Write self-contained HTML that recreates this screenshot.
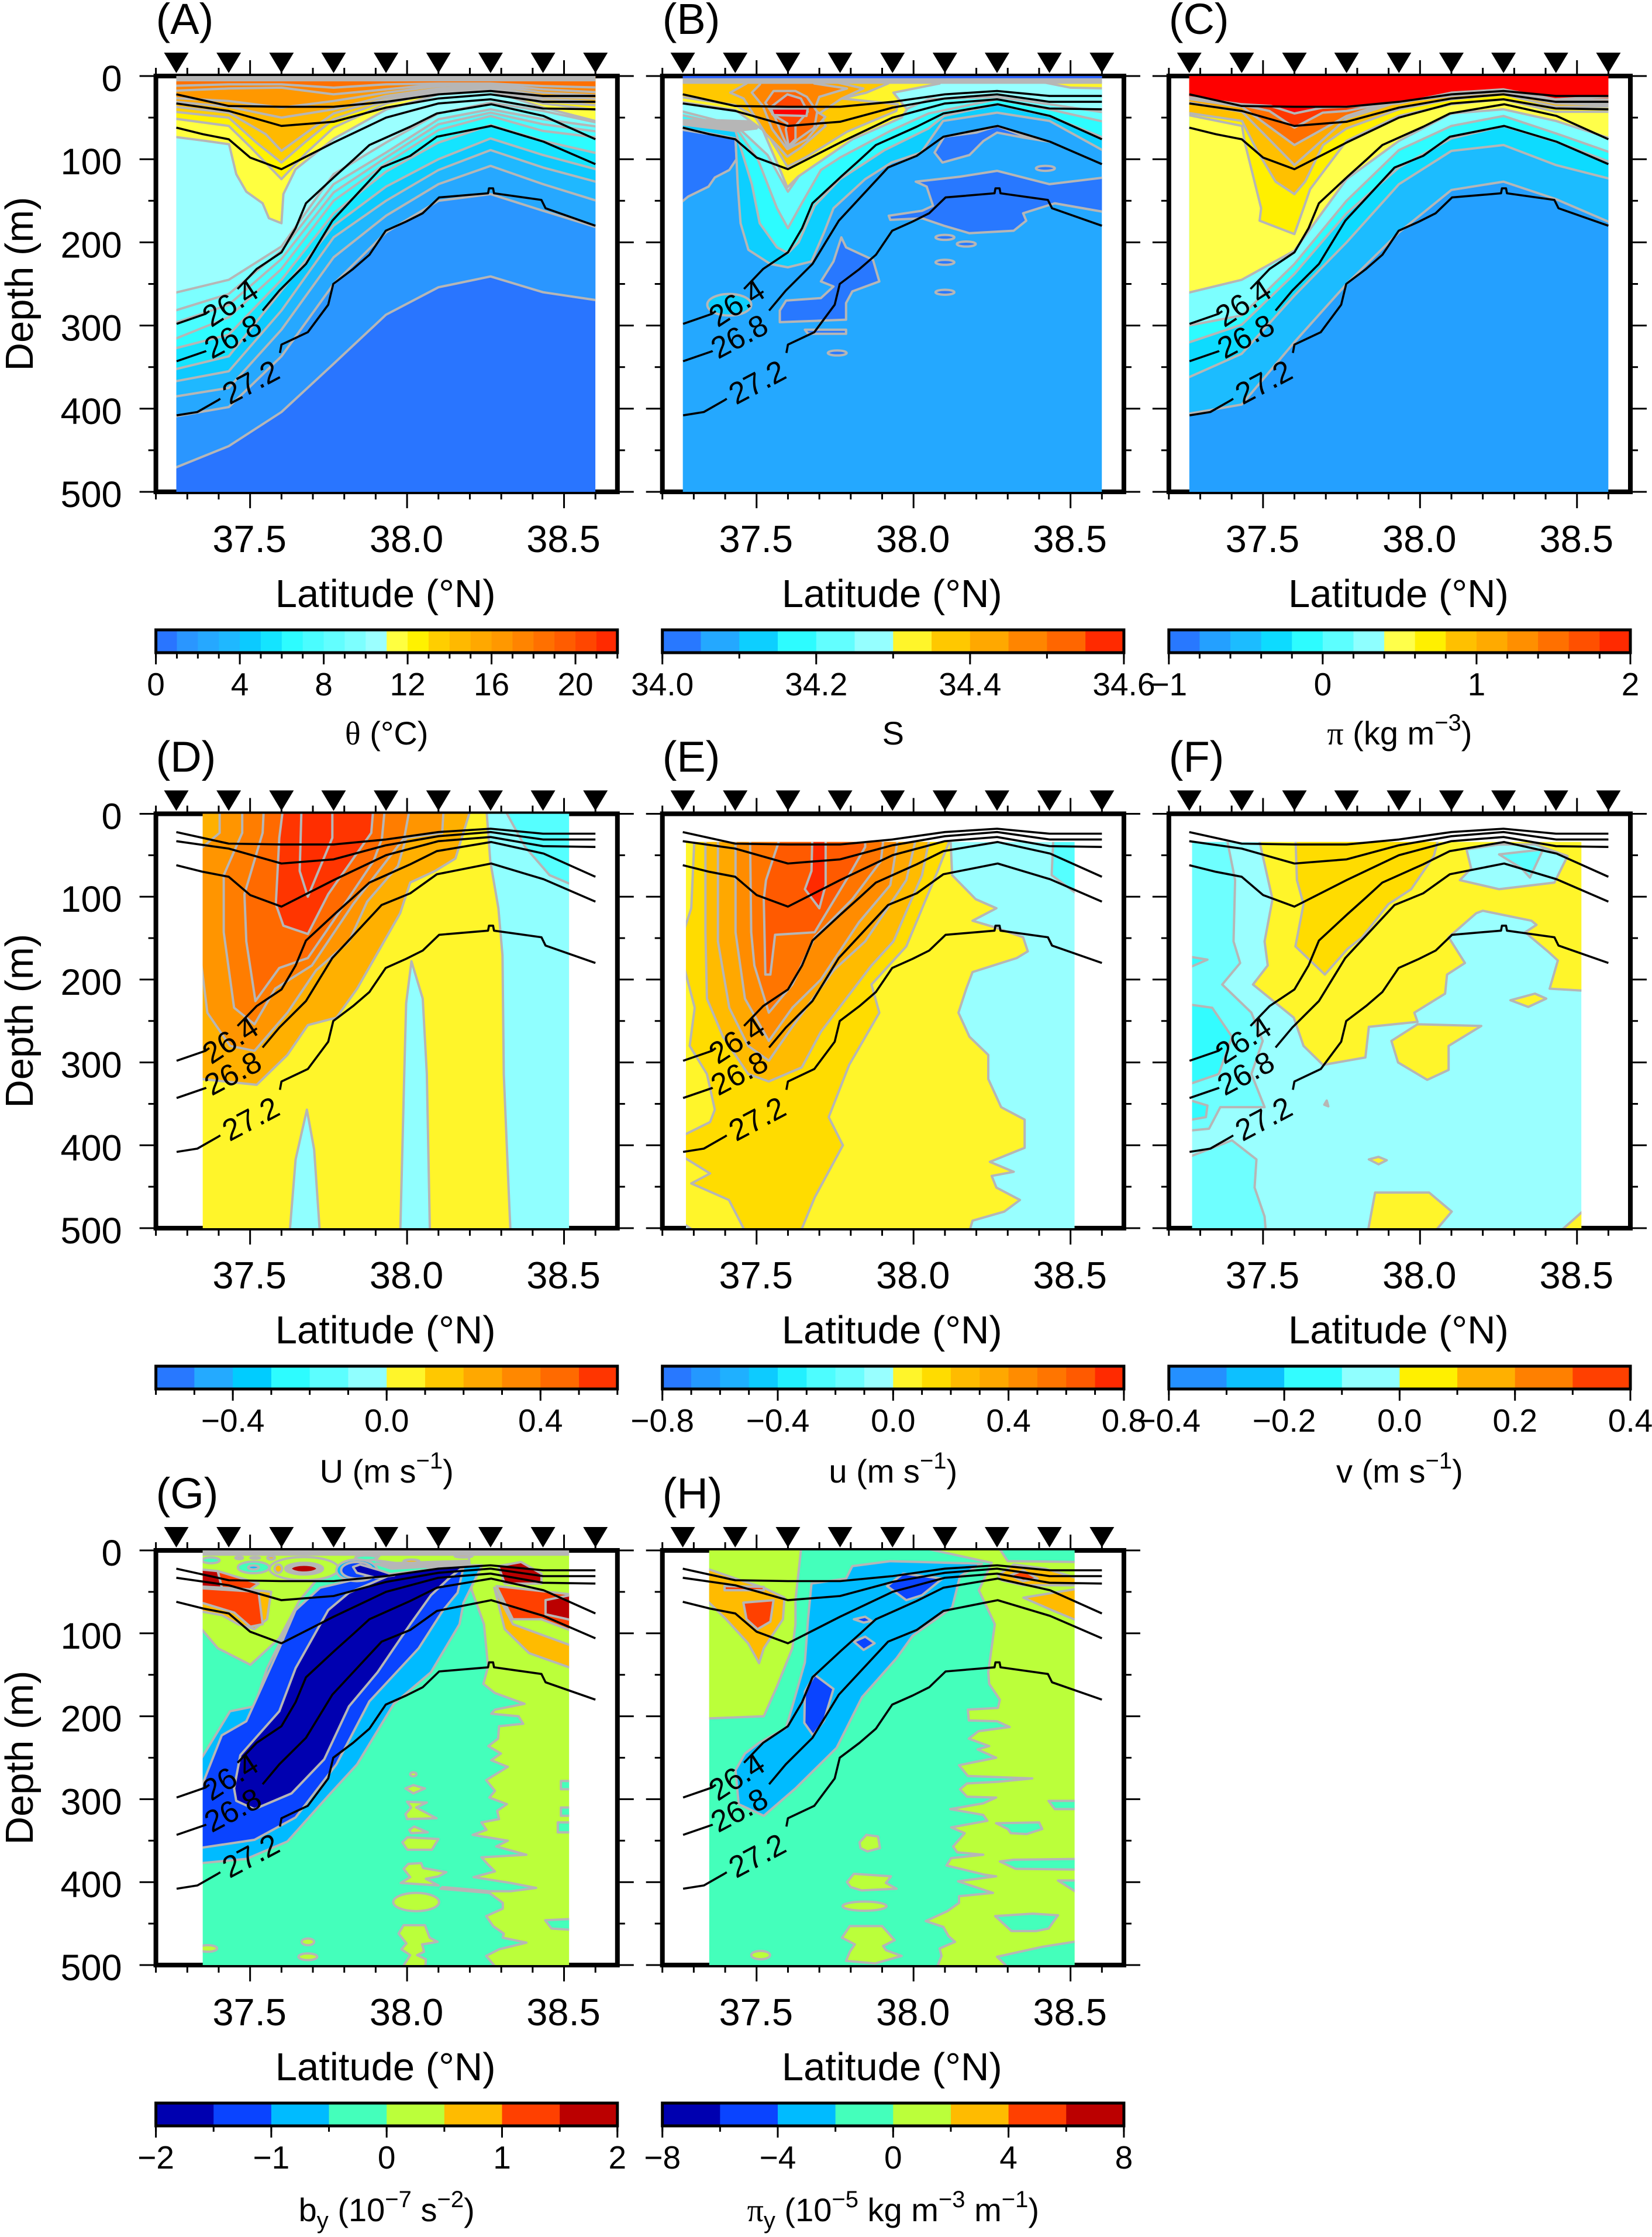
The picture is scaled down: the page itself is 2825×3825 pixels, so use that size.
<!DOCTYPE html>
<html lang="en">
<head>
<meta charset="utf-8">
<title>Meridional section panels A to H</title>
<style>
html,body{margin:0;padding:0;background:#fff;}
svg{display:block;font-family:"Liberation Sans",sans-serif;}
</style>
</head>
<body>
<svg id="figure" xmlns="http://www.w3.org/2000/svg" width="2825" height="3825" viewBox="0 0 2825 3825"></svg>
<script>
/* ---------- shared data ---------- */
const stationLats = [37.265,37.432,37.6,37.766,37.933,38.1,38.266,38.433,38.6];
const latTicks = [37.2,37.3,37.4,37.5,37.6,37.7,37.8,37.9,38.0,38.1,38.2,38.3,38.4,38.5,38.6];
const latLabels = [37.5,38.0,38.5];
const depthTicks = [0,50,100,150,200,250,300,350,400,450,500];
const depthLabels = [0,100,200,300,400,500];

/* isopycnals (lat, depth) */
const isoTop1 = [[37.265,22],[37.432,36],[37.6,37],[37.766,37],[37.933,31],[38.1,22],[38.266,18],[38.433,24],[38.6,24]];
const isoTop2 = [[37.265,33],[37.432,42],[37.6,60],[37.766,55],[37.933,38],[38.1,27],[38.266,22],[38.433,31],[38.6,31]];
const isoTop3 = [[37.265,62],[37.35,70],[37.432,76],[37.5,98],[37.6,112],[37.766,80],[37.933,50],[38.1,33],[38.266,28],[38.433,39],[38.6,40]];
const iso264 = [[37.266,298],[37.358,286],[37.45,260],[37.521,232],[37.6,212],[37.645,183],[37.678,153],[37.769,121],[37.828,101],[37.88,83],[38.01,61],[38.095,45],[38.268,34],[38.435,48],[38.6,76]];
const iso268 = [[37.266,343],[37.358,331],[37.45,305],[37.54,282],[37.593,258],[37.678,226],[37.762,174],[37.919,110],[38.01,96],[38.095,73],[38.268,60],[38.435,79],[38.6,106]];
const iso272 = [[37.266,408],[37.332,404],[37.397,390],[37.5,365],[37.593,337],[37.6,323],[37.684,308],[37.749,275],[37.765,250],[37.828,232],[37.88,215],[37.932,186],[37.997,175],[38.05,165],[38.102,146],[38.258,141],[38.261,135],[38.274,135],[38.277,141],[38.428,149],[38.441,159],[38.6,180]];
const isoGap264 = [37.37,37.46];
const isoGap268 = [37.36,37.54];
const isoGap272 = [37.405,37.595];
const isoLabelText = ['26.4','26.8','27.2'];
const isoLabelLat = [37.437,37.445,37.502];
const isoLabelDepth = [273,313,368];
const isoLabelAngle = [-33,-28,-28];

/* colour bars */
const cbColorsA = ['#2975ff','#2a96ff','#26a8ff','#1fb8ff','#0ccaff','#14e4ff','#2dfcff','#4afdff','#62feff','#7cffff','#9bffff','#ffff40','#fff200','#ffce00','#ffb900','#ffa800','#ff9800','#ff8400','#ff7000','#ff5c00','#ff4600','#ff2a00'];
const cbColorsB = ['#2878ff','#24a8ff','#0dcfff','#2dfcff','#62feff','#95ffff','#fff52a','#ffc800','#ffa800','#ff8500','#ff6600','#ff2a00'];
const cbColorsC = ['#2878ff','#24a0ff','#1cbcff','#0ddbff','#2dfcff','#5cfeff','#8effff','#ffff4a','#fff000','#ffc000','#ffaa00','#ff8f00','#ff7000','#ff5000','#ff2a00'];
const cbColorsD = ['#2878ff','#24aaff','#00ccff','#2dfcff','#5cfeff','#90ffff','#fff52a','#ffc800','#ffa800','#ff8800','#ff6a00','#ff3500'];
const cbColorsE = ['#2878ff','#2498ff','#1fb0ff','#0dcbff','#22f0ff','#4dfdff','#6cfeff','#98ffff','#fff52a','#ffdc00','#ffbb00','#ffa800','#ff8c00','#ff7500','#ff5a00','#ff2a00'];
const cbColorsF = ['#2490ff','#0dc0ff','#33fcff','#90ffff','#fff000','#ffb000','#ff8000','#ff4000'];
const cbColorsG = ['#0000b0','#0a44ff','#00bbff','#44ffbb','#bbff3a','#ffbb00','#ff4000','#bb0000'];
const cbMajorA = [0,4,8,12,16,20], cbMinorA = [0,1,2,3,4,5,6,7,8,9,10,11,12,13,14,15,16,17,18,19,20,21,22];
const cbMajorB = [34.0,34.2,34.4,34.6], cbMinorB = [34.0,34.1,34.2,34.3,34.4,34.5,34.6];
const cbMajorC = [-1,0,1,2], cbMinorC = [-1,-0.8,-0.6,-0.4,-0.2,0,0.2,0.4,0.6,0.8,1,1.2,1.4,1.6,1.8,2];
const cbMajorD = [-0.4,0,0.4], cbMinorD = [-0.6,-0.5,-0.4,-0.3,-0.2,-0.1,0,0.1,0.2,0.3,0.4,0.5,0.6];
const cbMajorE = [-0.8,-0.4,0,0.4,0.8], cbMinorE = [-0.8,-0.7,-0.6,-0.5,-0.4,-0.3,-0.2,-0.1,0,0.1,0.2,0.3,0.4,0.5,0.6,0.7,0.8];
const cbMajorF = [-0.4,-0.2,0,0.2,0.4], cbMinorF = [-0.4,-0.3,-0.2,-0.1,0,0.1,0.2,0.3,0.4];
const cbMajorG = [-2,-1,0,1,2], cbMinorG = [-2,-1.5,-1,-0.5,0,0.5,1,1.5,2];
const cbMajorH = [-8,-4,0,4,8], cbMinorH = [-8,-6,-4,-2,0,2,4,6,8];

/* ---------- panel A: potential temperature contours ---------- */
const thetaC1 = [475,445,404,346,287,254,241,260,271];
const thetaC2 = [411,398,337,250,188,150,142,162,185];
const thetaC3 = [387,375,305,218,168,130,108,130,153];
const thetaC4 = [369,355,282,194,150,113,89,110,130];
const thetaC5 = [355,337,258,180,133,100,75,95,115];
const thetaC6 = [330,311,245,165,115,80,59,78,95];
const thetaC7 = [320,290,232,150,105,65,48,66,75];
const thetaC8 = [300,275,220,140,98,58,44,58,68];
const thetaC9 = [285,262,210,130,92,52,40,52,62];
const thetaC10 = [263,245,205,118,80,45,32,42,58];
const thetaC11 = [[37.266,72],[37.358,78],[37.433,82],[37.456,118],[37.488,139],[37.54,153],[37.56,171],[37.6,177],[37.606,142],[37.645,112],[37.768,75],[37.935,40],[38.102,22],[38.268,18],[38.435,38],[38.6,57]];
const thetaC12 = [[37.265,50],[37.432,60],[37.5,85],[37.6,124],[37.68,92],[37.766,62],[37.933,33],[38.1,20],[38.266,16],[38.433,33],[38.6,42]];
const thetaC13 = [[37.265,42],[37.432,50],[37.52,80],[37.6,104],[37.68,78],[37.766,52],[37.933,30],[38.1,19],[38.266,15],[38.433,30],[38.6,36]];
const thetaC14 = [[37.265,36],[37.432,44],[37.55,70],[37.6,90],[37.68,68],[37.766,45],[37.933,27],[38.1,17],[38.266,14],[38.433,27],[38.6,32]];
const thetaC15 = [[37.265,30],[37.432,37],[37.6,50],[37.766,40],[37.933,24],[38.1,15],[38.266,13],[38.433,24],[38.6,28]];
const thetaC16 = [[37.265,26],[37.432,30],[37.6,38],[37.766,30],[37.933,20],[38.1,12],[38.266,11],[38.433,20],[38.6,24]];
const thetaC17 = [[37.265,18],[37.432,15],[37.6,14],[37.766,22],[37.933,16],[38.1,10],[38.266,10],[38.433,16],[38.6,20]];
const thetaC18 = [[37.265,12],[37.432,10],[37.6,10],[37.766,14],[37.933,10],[38.1,9],[38.266,9],[38.433,12],[38.6,14]];
const thetaSurface = [[37.265,0],[38.6,0],[38.6,5],[37.265,5]];

/* ---------- panel B: salinity ---------- */
const salLowLeft = [[37.267,63],[37.433,75],[37.436,100],[37.413,113],[37.367,122],[37.347,133],[37.282,145],[37.267,159]];
const salLowUpper = [[38.067,92],[38.092,104],[38.178,95],[38.223,78],[38.266,68],[38.349,74],[38.433,79],[38.35,72],[38.266,60],[38.2,68],[38.097,73]];
const salLowBig = [[38.007,127],[38.148,121],[38.266,114],[38.433,130],[38.6,121],[38.6,165],[38.45,153],[38.349,165],[38.359,174],[38.319,186],[38.178,189],[38.097,180],[38.027,171],[37.926,173],[37.921,168],[38.027,162],[38.062,156],[38.042,133]];
const salLowMid = [[37.77,194],[37.785,206],[37.871,221],[37.891,247],[37.805,259],[37.785,273],[37.785,293],[37.574,296],[37.574,282],[37.594,270],[37.705,267],[37.745,253],[37.705,247],[37.745,223]];
const salLowThin = [[37.654,305],[37.785,305],[37.785,310],[37.664,310]];
const salRingLat = [38.42,38.1,38.168,38.1,38.1,37.757];
const salRingDepth = [111,194,202,224,260,333];
const salBlobCentre = [37.413,275];
const salC1 = [[37.267,61],[37.433,75],[37.44,130],[37.449,177],[37.474,209],[37.544,226],[37.6,230],[37.675,223],[37.715,188],[37.745,159],[37.846,124],[37.93,104],[38.024,92],[38.094,54],[38.266,44],[38.433,54],[38.6,95]];
const salC2 = [[37.267,56],[37.433,66],[37.485,130],[37.51,177],[37.565,206],[37.6,213],[37.634,200],[37.685,156],[37.766,124],[37.908,89],[38.048,63],[38.097,48],[38.266,34],[38.433,48],[38.6,78]];
const salC3 = [[37.267,45],[37.433,61],[37.505,101],[37.565,159],[37.6,183],[37.644,153],[37.705,113],[37.766,98],[37.926,66],[38.048,45],[38.266,28],[38.433,40],[38.6,57]];
const salC4 = [[37.267,40],[37.433,59],[37.535,95],[37.6,139],[37.654,110],[37.745,83],[37.926,48],[38.048,28],[38.266,25],[38.433,34],[38.6,45]];
const salC5 = [[37.267,30],[37.433,41],[37.52,65],[37.576,114],[37.598,134],[37.632,121],[37.806,76],[37.962,50],[37.979,40],[37.936,20],[38.083,9]];
const salC6 = [[37.267,24],[37.433,35],[37.511,53],[37.55,79],[37.598,109],[37.66,97],[37.788,67],[37.945,42],[37.95,34],[37.771,27],[37.85,20],[37.919,9]];
const salC7 = [[37.468,9],[37.416,20],[37.459,27],[37.485,43],[37.528,69],[37.572,86],[37.598,97],[37.641,86],[37.72,60],[37.7,45],[37.771,27],[37.84,15],[37.76,8]];
const salC8 = [[37.511,10],[37.485,20],[37.52,36],[37.55,64],[37.598,88],[37.66,76],[37.719,49],[37.684,41],[37.7,25],[37.788,15],[37.684,9]];
const salC9 = [[37.554,18],[37.528,32],[37.559,50],[37.585,74],[37.602,87],[37.632,76],[37.684,62],[37.693,43],[37.66,25],[37.624,18]];
const salC10 = [[37.55,36],[37.598,22],[37.641,27],[37.663,43],[37.624,60],[37.624,76],[37.602,84],[37.593,64],[37.598,57],[37.55,46]];
const salCore = [[37.546,39],[37.663,39],[37.659,48],[37.554,47]];
const salYellowRight = [[38.42,8],[38.5,14],[38.6,15],[38.6,7],[38.45,7]];
const salGreyBand = [[37.267,53],[37.36,53],[37.51,55],[37.5,63],[37.433,66],[37.267,57]];
const salSurfaceGrey = [[37.265,0],[38.6,0],[38.6,8],[37.265,8]];
const salSurface = [[37.265,0],[38.6,0],[38.6,4],[37.265,4]];

/* ---------- panel C: spiciness ---------- */
const spiceC1 = [408,395,320,250,188,137,127,148,180];
const spiceC2 = [367,334,264,200,130,90,83,107,126];
const spiceC3 = [324,299,238,165,110,75,60,79,107];
const spiceC4 = [302,288,226,150,89,60,48,69,95];
const spiceC5 = [263,245,210,124,78,45,40,54,78];
const spiceC6 = [[37.266,45],[37.433,60],[37.442,80],[37.494,159],[37.489,174],[37.6,190],[37.629,159],[37.65,136],[37.766,78],[37.932,48],[38.1,34],[38.266,28],[38.431,43],[38.6,43]];
const spiceC7 = [[37.266,43],[37.433,54],[37.48,89],[37.54,127],[37.6,142],[37.634,127],[37.691,83],[37.766,63],[37.932,40],[38.1,28],[38.266,22],[38.431,37],[38.6,37]];
const spiceC8 = [[37.266,30],[37.433,43],[37.6,107],[37.766,51],[37.932,31],[38.1,24],[38.266,19],[38.431,33],[38.6,35]];
const spiceC9 = [[37.266,26],[37.433,37],[37.6,83],[37.766,48],[37.932,28],[38.1,22],[38.266,16],[38.431,31],[38.6,34]];
const spiceC10 = [[37.266,25],[37.433,35],[37.52,42],[37.6,62],[37.69,44],[37.766,42],[37.932,30],[38.1,21],[38.266,16],[38.431,29],[38.6,28]];
const spiceC11 = [[37.266,24],[37.433,34],[37.525,36],[37.6,45],[37.69,38],[37.766,37],[37.932,33],[38.1,20],[38.266,16],[38.431,28],[38.6,24]];

/* ---------- panel D: along-jet velocity ---------- */
const bigUPaleRight = [[38.252,0],[38.265,57],[38.291,114],[38.304,171],[38.308,314],[38.324,457],[38.33,500],[38.516,500],[38.516,0]];
const bigUCyanRight = [[38.304,0],[38.376,40],[38.454,74],[38.516,89],[38.516,0]];
const bigUSpike1 = [[37.978,500],[37.991,314],[37.997,229],[38.014,178],[38.05,223],[38.063,314],[38.073,500]];
const bigUSpike2 = [[37.625,500],[37.645,417],[37.681,357],[37.704,405],[37.723,500]];
const bigUL1 = [[38.206,0],[38.154,54],[38.089,69],[38.01,83],[37.978,120],[37.841,211],[37.775,246],[37.684,255],[37.619,291],[37.521,327],[37.349,319],[37.349,0]];
const bigUL2 = [[37.403,0],[37.403,23],[37.351,49],[37.351,109],[37.364,240],[37.436,280],[37.514,286],[37.619,240],[37.71,189],[37.815,154],[37.873,106],[37.971,63],[37.997,29],[38.112,23],[38.117,0]];
const bigUL3 = [[37.475,0],[37.475,23],[37.416,74],[37.416,143],[37.449,234],[37.514,254],[37.58,211],[37.697,183],[37.828,109],[37.991,29],[38.01,0]];
const bigUL4 = [[37.544,0],[37.54,23],[37.482,97],[37.488,154],[37.517,226],[37.593,186],[37.684,174],[37.762,131],[37.893,57],[37.92,30],[37.93,0]];
const bigUL5 = [[37.606,0],[37.593,29],[37.582,109],[37.606,135],[37.684,145],[37.749,97],[37.886,23],[37.893,0]];
const bigUL6 = [[37.664,0],[37.658,69],[37.684,100],[37.762,29],[37.762,0]];

/* ---------- panel E: zonal velocity ---------- */
const zonalYellow = [[37.275,0],[38.113,0],[38.123,74],[38.198,103],[38.264,114],[38.188,129],[38.259,137],[38.349,149],[38.364,166],[38.329,174],[38.188,191],[38.168,211],[38.143,240],[38.178,269],[38.238,291],[38.238,320],[38.279,354],[38.354,369],[38.354,403],[38.243,420],[38.319,432],[38.249,437],[38.264,451],[38.339,466],[38.289,480],[38.188,491],[38.173,500],[37.327,500],[37.275,489]];
const zonalCyan = [[38.45,0],[38.44,74],[38.513,103],[38.513,0]];
const zonalL1 = [[37.307,0],[37.292,114],[37.282,160],[37.303,234],[37.287,280],[37.342,314],[37.367,357],[37.352,372],[37.275,392],[37.275,409],[37.352,434],[37.292,446],[37.412,466],[37.472,500],[37.634,500],[37.685,463],[37.775,400],[37.73,366],[37.795,303],[37.891,240],[37.866,206],[37.977,160],[38.077,69],[38.113,34],[38.113,0]];
const zonalL2 = [[37.337,0],[37.337,143],[37.342,223],[37.393,269],[37.473,314],[37.539,323],[37.644,306],[37.705,263],[37.866,183],[37.936,154],[38.027,74],[38.072,0]];
const zonalL3 = [[37.377,0],[37.377,154],[37.413,234],[37.473,280],[37.539,298],[37.614,257],[37.745,189],[37.846,154],[37.977,80],[38.032,0]];
const zonalL4 = [[37.433,0],[37.433,143],[37.463,223],[37.539,274],[37.614,234],[37.705,200],[37.826,131],[37.926,86],[37.967,0]];
const zonalL5 = [[37.478,0],[37.483,143],[37.493,183],[37.539,240],[37.614,206],[37.685,149],[37.805,103],[37.896,57],[37.916,0]];
const zonalL6 = [[37.609,0],[37.53,80],[37.523,103],[37.528,194],[37.544,194],[37.559,146],[37.685,143],[37.795,74],[37.846,40],[37.846,0]];
const zonalCore = [[37.68,0],[37.675,69],[37.654,91],[37.7,114],[37.72,86],[37.72,0]];

/* ---------- panel F: meridional velocity ---------- */
const meridCyan1 = [[37.274,0],[37.364,0],[37.411,80],[37.406,154],[37.427,180],[37.37,206],[37.463,240],[37.499,274],[37.463,314],[37.505,354],[37.364,354],[37.328,380],[37.274,383]];
const meridCyan2 = [[37.274,417],[37.401,394],[37.479,417],[37.473,451],[37.505,486],[37.51,500],[37.274,500]];
const meridCyan3 = [[37.274,229],[37.338,234],[37.401,269],[37.359,314],[37.274,329]];
const meridCyan4 = [[37.274,343],[37.323,352],[37.318,366],[37.274,371]];
const meridCyan5 = [[37.274,171],[37.323,176],[37.274,189]];
const meridYellow = [[37.482,0],[37.489,34],[37.53,103],[37.505,154],[37.515,183],[37.468,206],[37.598,246],[37.629,280],[37.691,303],[37.826,294],[37.837,257],[37.992,251],[37.982,240],[38.08,217],[38.086,194],[38.143,180],[38.091,149],[38.179,120],[38.2,117],[38.355,129],[38.371,134],[38.335,143],[38.407,166],[38.439,177],[38.413,211],[38.514,214],[38.514,0]];
const meridIsland = [[38.148,43],[38.252,37],[38.366,37],[38.47,51],[38.428,83],[38.252,91],[38.127,80],[38.163,66]];
const meridIslandCore = [[38.252,49],[38.392,43],[38.35,77],[38.324,66]];
const meridGold = [[37.6,0],[37.608,80],[37.629,109],[37.603,160],[37.697,194],[37.769,163],[37.816,149],[37.899,109],[37.972,91],[38.044,51],[38.086,0]];
const meridBlob1 = [[37.909,274],[37.992,254],[38.195,256],[38.091,280],[38.091,309],[38.023,321],[37.93,300]];
const meridBlob2 = [[38.288,225],[38.366,217],[38.402,223],[38.345,233]];
const meridBlob3 = [[37.837,417],[37.868,414],[37.894,418],[37.868,423]];
const meridBlob4 = [[37.831,500],[37.857,457],[38.029,457],[38.101,480],[38.034,500]];
const meridBlob5 = [[38.428,500],[38.514,471],[38.514,500]];
const meridBlob6 = [[37.695,351],[37.703,346],[37.708,353]];

/* ---------- panel G: buoyancy gradient ---------- */
const buoyGreenTop = [[37.349,0],[37.349,83],[37.397,118],[37.501,138],[37.593,106],[37.658,60],[37.736,25],[37.867,8],[37.945,0]];
const buoyGreenTop2 = [[37.945,0],[37.9,12],[38.1,22],[38.25,10],[38.25,0]];
const buoyGreyArc = [[37.9,16],[38.25,12],[38.25,16],[37.95,22]];
const buoyGreenRight = [[38.193,0],[38.206,48],[38.245,89],[38.258,140],[38.243,161],[38.28,172],[38.374,185],[38.28,192],[38.268,197],[38.355,200],[38.37,209],[38.293,212],[38.29,227],[38.259,236],[38.299,245],[38.268,253],[38.321,261],[38.252,277],[38.28,290],[38.262,298],[38.318,306],[38.287,314],[38.293,324],[38.237,328],[38.253,337],[38.209,343],[38.321,350],[38.284,357],[38.38,367],[38.237,370],[38.256,378],[38.28,387],[38.212,394],[38.33,401],[38.411,407],[38.33,411],[38.262,411],[38.113,406],[38.107,408],[38.262,413],[38.305,425],[38.305,432],[38.252,441],[38.274,453],[38.308,462],[38.305,467],[38.38,473],[38.293,481],[38.252,489],[38.299,500],[38.516,500],[38.516,0]];
const buoyMint1 = [[38.49,278],[38.516,278],[38.516,288],[38.49,288]];
const buoyMint2 = [[38.49,310],[38.516,310],[38.516,320],[38.49,320]];
const buoyMint3 = [[38.48,328],[38.516,328],[38.516,340],[38.48,340]];
const buoyMint4 = [[38.44,446],[38.516,444],[38.516,458],[38.46,456]];
const buoyLump2 = [[37.995,287],[38.02,283],[38.057,287],[38.02,293]];
const buoyLump3 = [[38.0,303],[38.063,304],[38.029,310],[38.094,323],[38.0,324],[37.995,318],[38.013,310]];
const buoyLump4 = [[38.007,337],[38.023,333],[38.066,340],[38.013,341]];
const buoyLump5 = [[37.985,352],[38.001,346],[38.1,348],[38.079,361],[38.001,361]];
const buoyLump6 = [[38.004,378],[38.045,377],[38.051,383],[38.125,388],[38.1,393],[38.06,396],[38.1,404],[37.98,401],[38.01,394],[37.989,384]];
const buoyLump8 = [[37.973,462],[37.989,452],[38.057,452],[38.072,467],[38.097,472],[38.048,475],[38.054,484],[38.032,488],[38.06,493],[38.057,500],[37.973,500],[38.01,488],[37.982,481],[37.998,474]];
const buoyLumpLat = [38.02,38.029,37.684,37.684,37.365];
const buoyLumpDepth = [270,424,472,490,480];
const buoyLumpRx = [0.01,0.073,0.02,0.03,0.03];
const buoyLumpRy = [2.5,11,4,4,4];
const buoyLightBlue = [[37.349,267],[37.436,194],[37.514,188],[37.554,142],[37.632,83],[37.697,54],[37.802,37],[37.913,31],[38.18,18],[38.239,18],[38.18,63],[38.167,89],[38.076,147],[37.958,185],[37.841,258],[37.749,296],[37.619,351],[37.488,372],[37.349,378]];
const buoyBlue = [[37.349,310],[37.41,223],[37.488,206],[37.593,118],[37.645,72],[37.723,45],[37.88,31],[38.18,20],[38.161,51],[38.115,72],[38.037,118],[37.88,182],[37.775,258],[37.645,322],[37.514,349],[37.349,360]];
const buoyNavy = [[37.449,287],[37.469,247],[37.593,194],[37.645,142],[37.749,72],[37.815,51],[37.958,28],[38.187,18],[38.141,31],[38.076,54],[38.01,89],[37.906,147],[37.815,188],[37.736,252],[37.632,293],[37.514,312],[37.456,302]];
const buoyNavyTip = [[37.828,20],[37.85,17],[37.913,24],[37.96,30],[37.9,33],[37.84,27]];
const buoyRedLeft = [[37.349,22],[37.397,25],[37.41,45],[37.349,43]];
const buoyAmberLeft = [[37.349,40],[37.567,50],[37.554,83],[37.514,95],[37.462,89],[37.41,78],[37.349,72]];
const buoyOrangeLeft = [[37.349,45],[37.527,50],[37.54,89],[37.501,92],[37.449,75],[37.349,60]];
const buoyOrangeStrip = [[37.397,25],[37.527,40],[37.5,47],[37.41,45]];
const buoyAmberRight = [[38.278,45],[38.337,89],[38.516,118],[38.516,145],[38.389,124],[38.311,95]];
const buoyOrangeRight = [[38.285,43],[38.428,49],[38.516,54],[38.516,100],[38.428,83],[38.337,83]];
const buoyRedRight1 = [[38.291,19],[38.363,14],[38.428,28],[38.428,40],[38.311,40]];
const buoyRedRight2 = [[38.441,60],[38.516,52],[38.516,86],[38.441,77]];
const buoySurface = [[37.349,0],[38.516,0],[38.516,5],[37.349,5]];
const buoyRingLat = [37.672,37.672,37.672,37.59,37.511,37.511,37.465,37.516,37.567,37.375,38.014,38.18,37.87,37.84,37.84];
const buoyRingDepth = [22,22,22,22,20.5,20.5,9,9,9,12,13,7,9,24,24];
const buoyRingRx = [0.11,0.06,0.042,0.012,0.05,0.017,0.012,0.015,0.012,0.028,0.025,0.028,0.035,0.065,0.05];
const buoyRingRy = [14,7,4.7,5,7,2.4,1.5,1,2,3.5,2,1.5,3,13,10];

/* ---------- panel H: spiciness gradient ---------- */
const spyGreenLeft = [[37.349,0],[37.349,203],[37.523,200],[37.564,165],[37.614,118],[37.624,89],[37.624,60],[37.644,0]];
const spyGreenRight = [[37.946,0],[38.249,15],[38.208,48],[38.259,89],[38.238,147],[38.241,161],[38.275,180],[38.269,190],[38.173,192],[38.176,205],[38.266,206],[38.306,213],[38.207,218],[38.176,227],[38.241,236],[38.204,240],[38.263,250],[38.145,259],[38.173,272],[38.378,275],[38.269,279],[38.17,281],[38.148,288],[38.17,297],[38.263,298],[38.222,305],[38.117,312],[38.222,319],[38.235,326],[38.12,334],[38.163,341],[38.126,357],[38.139,364],[38.222,367],[38.12,371],[38.105,380],[38.226,391],[38.263,393],[38.142,399],[38.253,413],[38.145,417],[38.145,425],[38.108,435],[38.039,447],[38.095,454],[38.111,465],[38.132,472],[38.083,480],[38.089,489],[38.067,500],[38.513,500],[38.513,0]];
const spyMintTop = [[38.26,0],[38.513,0],[38.513,14],[38.3,13]];
const spyMint1 = [[38.43,302],[38.513,302],[38.513,312],[38.45,312]];
const spyMint2 = [[38.263,329],[38.4,328],[38.41,336],[38.36,342],[38.31,341],[38.3,336]];
const spyMint3 = [[38.275,375],[38.319,373],[38.513,372],[38.513,385],[38.325,384]];
const spyMint4 = [[38.46,398],[38.513,398],[38.513,418]];
const spyMint5 = [[38.26,441],[38.38,438],[38.46,440],[38.43,456],[38.39,459],[38.312,459]];
const spyMint6 = [[38.266,490],[38.41,478],[38.513,470],[38.513,500],[38.32,500]];
const spyLump1 = [[37.828,352],[37.85,343],[37.887,345],[37.893,359],[37.853,363],[37.831,359]];
const spyLump2 = [[37.788,400],[37.81,390],[37.928,393],[37.912,401],[37.946,408],[37.835,410],[37.8,406]];
const spyLump4 = [[37.772,467],[37.797,453],[37.9,453],[37.94,470],[37.903,477],[37.912,482],[37.962,489],[37.878,498],[37.785,495],[37.797,484],[37.813,475]];
const spyLumpLat = [37.844,37.513];
const spyLumpDepth = [429,488];
const spyLumpRx = [0.07,0.03];
const spyLumpRy = [5.5,5];
const spyLightBlue = [[37.463,245],[37.508,232],[37.594,214],[37.614,188],[37.654,135],[37.664,83],[37.675,40],[37.785,34],[37.805,19],[37.926,13],[38.218,16],[38.148,31],[38.123,69],[37.997,103],[37.946,130],[37.836,177],[37.755,238],[37.624,287],[37.523,320],[37.443,306],[37.433,265]];
const spyBlob1 = [[37.654,170],[37.685,150],[37.745,167],[37.715,205],[37.68,223],[37.652,208]];
const spyBlob2 = [[37.81,110],[37.846,104],[37.876,112],[37.841,120]];
const spyBlob3 = [[37.81,83],[37.846,80],[37.866,85],[37.841,87]];
const spyBlob4 = [[37.916,43],[37.967,28],[38.092,34],[38.027,54],[37.977,60]];
const spyAmberLeft = [[37.349,19],[37.433,34],[37.523,45],[37.589,57],[37.584,83],[37.523,118],[37.508,136],[37.473,112],[37.403,83],[37.349,52]];
const spyRedLeft = [[37.458,63],[37.554,60],[37.544,86],[37.503,95],[37.468,83]];
const spyRedStrip = [[37.398,43],[37.523,44],[37.523,48],[37.398,48]];
const spyAmberRight1 = [[38.269,30],[38.319,17],[38.42,22],[38.513,36],[38.513,42],[38.35,42],[38.28,36]];
const spyAmberRight2 = [[38.35,57],[38.513,45],[38.513,88],[38.44,72]];
const spyRedRight = [[38.309,30],[38.349,24],[38.395,34],[38.349,37]];

/* ---------- geometry ---------- */
const columnLeft = [266.6,1132.7,1998.8];
const PANEL_W = 789.2;
const GREY = '#b6b6b6';
const svg = document.getElementById('figure');
const NS = 'http://www.w3.org/2000/svg';

function mk(parent, tag, attrs, name){
  const el = document.createElementNS(NS, tag);
  for (const k in attrs) el.setAttribute(k, attrs[k]);
  
  
  parent.appendChild(el);
  return el;
}
function txt(parent, str, x, y, size, anchor, name, extra){
  const el = mk(parent, 'text', Object.assign({x:x, y:y, 'font-size':size, 'text-anchor':anchor, fill:'#000'}, extra||{}), name);
  el.textContent = str;
  return el;
}
function makeScales(p){
  p.x = function(lat){ return p.left + (lat - 37.2) * (PANEL_W / 1.47); };
  p.y = function(d){ return p.top + d * (p.bottom - p.top) / 500; };
}
function adjust(p, pt){
  let lat = pt[0], d = pt[1];
  if (Math.abs(lat - p.domain[0]) < 0.012) lat -= 0.03;
  if (Math.abs(lat - p.domain[1]) < 0.012) lat += 0.03;
  if (d <= 0) d = -10;
  if (d >= 500) d = 510;
  return [p.x(lat), p.y(d)];
}
/* filled contour closed explicitly by its own points */
function region(p, g, pts, color, name){
  const s = pts.map(function(q){ const a = adjust(p, q); return a[0].toFixed(1) + ',' + a[1].toFixed(1); }).join(' ');
  mk(g, 'polygon', {points:s, fill:color, stroke:GREY, 'stroke-width':4, 'stroke-linejoin':'round'}, name);
}
/* everything shallower than a contour line */
function above(p, g, pts, color, name){
  const first = pts[0], last = pts[pts.length - 1];
  region(p, g, pts.concat([[last[0],0],[first[0],0]]), color, name);
}
/* contour given as depths at the stations */
function stationBand(p, g, depths, color, name){
  above(p, g, stationLats.map(function(l, i){ return [l, depths[i]]; }), color, name);
}
function blob(p, g, lat, d, rx, ry, color, name){
  mk(g, 'ellipse', {cx:p.x(lat), cy:p.y(d), rx:rx * (PANEL_W / 1.47), ry:ry * (p.bottom - p.top) / 500,
    fill:color, stroke:GREY, 'stroke-width':4}, name);
}
function interp(a, b, lat){
  const t = (lat - a[0]) / (b[0] - a[0]);
  return [lat, a[1] + t * (b[1] - a[1])];
}
function isoLine(p, g, pts, gap, name){
  const pieces = [[]];
  for (let i = 0; i < pts.length; i++){
    const q = pts[i], prev = pts[i - 1];
    if (gap && prev){
      if (prev[0] < gap[0] && q[0] >= gap[0]) pieces[pieces.length - 1].push(interp(prev, q, gap[0]));
      if (prev[0] < gap[1] && q[0] >= gap[1]){ pieces.push([]); pieces[pieces.length - 1].push(interp(prev, q, gap[1])); }
    }
    if (!gap || q[0] <= gap[0] || q[0] >= gap[1]) pieces[pieces.length - 1].push(q);
  }
  pieces.forEach(function(seg){
    if (seg.length < 2) return;
    const s = seg.map(function(q){ return p.x(q[0]).toFixed(1) + ',' + p.y(q[1]).toFixed(1); }).join(' ');
    mk(g, 'polyline', {points:s, fill:'none', stroke:'#000', 'stroke-width':3.6, 'stroke-linejoin':'round'}, name);
  });
}

let clipCount = 0;
function drawPanel(p){
  makeScales(p);
  const g = mk(svg, 'g', {}, 'panel-' + p.id.toLowerCase());
  /* frame */
  mk(g, 'rect', {x:p.left, y:p.top, width:PANEL_W, height:p.bottom - p.top, fill:'#fff', stroke:'#000', 'stroke-width':8}, 'panel-frame');
  /* field */
  clipCount++;
  const defs = mk(g, 'defs', {}, 'clip-defs');
  const cp = mk(defs, 'clipPath', {id:'clip' + clipCount}, 'field-clip');
  mk(cp, 'rect', {x:p.x(p.domain[0]), y:p.y(p.topD), width:p.x(p.domain[1]) - p.x(p.domain[0]), height:p.y(500) - p.y(p.topD)}, 'field-clip-rect');
  const f = mk(g, 'g', {'clip-path':'url(#clip' + clipCount + ')'}, 'contour-field');
  mk(f, 'rect', {x:p.x(p.domain[0]), y:p.y(p.topD), width:p.x(p.domain[1]) - p.x(p.domain[0]), height:p.y(500) - p.y(p.topD), fill:p.base}, 'field-background');
  p.draw(f);
  /* isopycnals */
  const iso = mk(g, 'g', {}, 'isopycnals');
  isoLine(p, iso, isoTop1, null, 'isopycnal-upper-1');
  isoLine(p, iso, isoTop2, null, 'isopycnal-upper-2');
  isoLine(p, iso, isoTop3, null, 'isopycnal-upper-3');
  isoLine(p, iso, iso264, isoGap264, 'isopycnal-26-4');
  isoLine(p, iso, iso268, isoGap268, 'isopycnal-26-8');
  isoLine(p, iso, iso272, isoGap272, 'isopycnal-27-2');
  isoLabelText.forEach(function(t, i){
    const X = p.x(isoLabelLat[i]), Y = p.y(isoLabelDepth[i]);
    txt(iso, t, X, Y + 18, 52, 'middle', 'isopycnal-label', {transform:'rotate(' + isoLabelAngle[i] + ' ' + X + ' ' + Y + ')'});
  });
  /* ticks */
  const ticks = mk(g, 'g', {stroke:'#000', 'stroke-width':3}, 'axis-ticks');
  latTicks.forEach(function(l){
    const major = latLabels.indexOf(l) >= 0;
    mk(ticks, 'line', {x1:p.x(l), x2:p.x(l), y1:p.top, y2:p.top - (major ? 27 : 14)}, 'top-tick');
    mk(ticks, 'line', {x1:p.x(l), x2:p.x(l), y1:p.bottom, y2:p.bottom + (major ? 28 : 13)}, 'x-tick');
  });
  depthTicks.forEach(function(d){
    const major = depthLabels.indexOf(d) >= 0;
    mk(ticks, 'line', {x1:p.left, x2:p.left - (major ? 28 : 13), y1:p.y(d), y2:p.y(d)}, 'y-tick');
    mk(ticks, 'line', {x1:p.left + PANEL_W, x2:p.left + PANEL_W + (major ? 28 : 13), y1:p.y(d), y2:p.y(d)}, 'right-tick');
  });
  latLabels.forEach(function(l){
    txt(g, l.toFixed(1), p.x(l) - 1, p.bottom + 103, 65, 'middle', 'x-tick-label');
  });
  txt(g, 'Latitude (°N)', p.left + PANEL_W / 2 - 2, p.bottom + 197, 67, 'middle', 'x-axis-title');
  if (p.showY){
    depthLabels.forEach(function(d){
      txt(g, String(d), p.left - 58, p.y(d) + 26, 63, 'end', 'y-tick-label');
    });
    const cy = (p.top + p.bottom) / 2;
    txt(g, 'Depth (m)', 56, cy, 67, 'middle', 'y-axis-title', {transform:'rotate(-90 56 ' + cy + ')'});
  }
  /* station markers */
  stationLats.forEach(function(l){
    const X = p.x(l);
    mk(g, 'polygon', {points:(X - 21) + ',' + (p.top - 40) + ' ' + (X + 21) + ',' + (p.top - 40) + ' ' + X + ',' + (p.top - 5), fill:'#000'}, 'station-marker');
  });
  txt(g, '(' + p.id + ')', p.left, p.top - 72, 74, 'start', 'panel-label');
  drawColorbar(g, p);
}

function drawColorbar(g, p){
  const cb = p.cb;
  const x0 = p.left, top = p.bottom + 236, h = 39;
  const sx = function(v){ return x0 + (v - cb.min) / (cb.max - cb.min) * PANEL_W; };
  const bar = mk(g, 'g', {}, 'colorbar');
  const n = cb.colors.length, step = (cb.max - cb.min) / n;
  cb.colors.forEach(function(c, i){
    mk(bar, 'rect', {x:sx(cb.min + i * step), y:top, width:PANEL_W / n + 0.5, height:h, fill:c}, 'colorbar-cell');
  });
  mk(bar, 'rect', {x:x0, y:top, width:PANEL_W, height:h, fill:'none', stroke:'#000', 'stroke-width':5}, 'colorbar-frame');
  cb.minor.forEach(function(v){
    mk(bar, 'line', {x1:sx(v), x2:sx(v), y1:top + h, y2:top + h + 10, stroke:'#000', 'stroke-width':3}, 'colorbar-minor-tick');
  });
  cb.major.forEach(function(v){
    mk(bar, 'line', {x1:sx(v), x2:sx(v), y1:top + h, y2:top + h + 20, stroke:'#000', 'stroke-width':3}, 'colorbar-major-tick');
    const s = (v < 0 ? '\u2212' : '') + Math.abs(v).toFixed(cb.digits);
    txt(bar, s, sx(v), p.bottom + 348, 55, 'middle', 'colorbar-tick-label');
  });
  const t = mk(bar, 'text', {x:p.left + PANEL_W / 2, y:p.bottom + cb.titleY, 'font-size':56, 'text-anchor':'middle', fill:'#000'}, 'colorbar-title');
  let shift = 0;
  cb.title.forEach(function(seg){
    const ts = document.createElementNS(NS, 'tspan');
    ts.textContent = seg[0];
    const kind = seg[1] || '';
    let want = 0;
    if (kind === 'sup'){ want = -24; ts.setAttribute('font-size', 40); }
    if (kind === 'sub'){ want = 12; ts.setAttribute('font-size', 40); }
    if (kind === 'sym'){ ts.setAttribute('font-family', '"Liberation Serif",serif'); }
    if (want !== shift){ ts.setAttribute('dy', want - shift); shift = want; }
    t.appendChild(ts);
  });
}

/* ---------- panel definitions ---------- */
drawPanel({id:'A', left:columnLeft[0], top:130, bottom:841, domain:[37.265,38.6], topD:0, base:cbColorsA[0], showY:true,
  cb:{colors:cbColorsA, min:0, max:22, major:cbMajorA, minor:cbMinorA, digits:0, titleY:432, title:[['θ','sym'],[' (°C)']]},
  draw:function(f){
    const p = this;
    [thetaC1,thetaC2,thetaC3,thetaC4,thetaC5,thetaC6,thetaC7,thetaC8,thetaC9,thetaC10].forEach(function(c, i){
      stationBand(p, f, c, cbColorsA[i + 1], 'theta-contour');
    });
    [thetaC11,thetaC12,thetaC13,thetaC14,thetaC15,thetaC16,thetaC17,thetaC18].forEach(function(c, i){
      above(p, f, c, cbColorsA[i + 11], 'theta-contour');
    });
    region(p, f, thetaSurface, GREY, 'theta-surface-contours');
  }});

drawPanel({id:'B', left:columnLeft[1], top:130, bottom:841, domain:[37.265,38.6], topD:0, base:cbColorsB[1], showY:false,
  cb:{colors:cbColorsB, min:34.0, max:34.6, major:cbMajorB, minor:cbMinorB, digits:1, titleY:432, title:[['S']]},
  draw:function(f){
    const p = this;
    region(p, f, salLowLeft, cbColorsB[0], 'salinity-low-patch');
    region(p, f, salLowUpper, cbColorsB[0], 'salinity-low-patch');
    region(p, f, salLowBig, cbColorsB[0], 'salinity-low-patch');
    region(p, f, salLowMid, cbColorsB[0], 'salinity-low-patch');
    region(p, f, salLowThin, cbColorsB[0], 'salinity-low-patch');
    salRingLat.forEach(function(l, i){ blob(p, f, l, salRingDepth[i], 0.03, 3, cbColorsB[0], 'salinity-small-contour'); });
    blob(p, f, salBlobCentre[0], salBlobCentre[1], 0.07, 13, cbColorsB[2], 'salinity-small-blob');
    above(p, f, salC1, cbColorsB[2], 'salinity-contour');
    above(p, f, salC2, cbColorsB[3], 'salinity-contour');
    above(p, f, salC3, cbColorsB[4], 'salinity-contour');
    above(p, f, salC4, cbColorsB[5], 'salinity-contour');
    region(p, f, salGreyBand, GREY, 'salinity-dense-contours');
    above(p, f, salC5, cbColorsB[6], 'salinity-contour');
    region(p, f, salYellowRight, cbColorsB[6], 'salinity-surface-patch');
    above(p, f, salC6, cbColorsB[7], 'salinity-contour');
    above(p, f, salC7, cbColorsB[8], 'salinity-contour');
    above(p, f, salC8, cbColorsB[9], 'salinity-contour');
    region(p, f, salC9, cbColorsB[10], 'salinity-contour');
    region(p, f, salC10, '#ff4500', 'salinity-contour');
    region(p, f, salCore, '#fe0000', 'salinity-core');
    region(p, f, salSurfaceGrey, GREY, 'salinity-surface-contours');
    region(p, f, salSurface, '#2860ff', 'salinity-surface-strip');
  }});

drawPanel({id:'C', left:columnLeft[2], top:130, bottom:841, domain:[37.265,38.6], topD:0, base:cbColorsC[1], showY:false,
  cb:{colors:cbColorsC, min:-1, max:2, major:cbMajorC, minor:cbMinorC, digits:0, titleY:432, title:[['π','sym'],[' (kg m'],['−3','sup'],[')']]},
  draw:function(f){
    const p = this;
    stationBand(p, f, spiceC1, cbColorsC[2], 'spice-contour');
    stationBand(p, f, spiceC2, cbColorsC[3], 'spice-contour');
    stationBand(p, f, spiceC3, cbColorsC[4], 'spice-contour');
    stationBand(p, f, spiceC4, '#7cffff', 'spice-contour');
    stationBand(p, f, spiceC5, cbColorsC[7], 'spice-contour');
    above(p, f, spiceC6, cbColorsC[8], 'spice-contour');
    above(p, f, spiceC7, cbColorsC[9], 'spice-contour');
    above(p, f, spiceC8, cbColorsC[10], 'spice-contour');
    above(p, f, spiceC9, cbColorsC[12], 'spice-contour');
    above(p, f, spiceC10, '#ff3800', 'spice-contour');
    above(p, f, spiceC11, '#fe0000', 'spice-contour');
  }});

drawPanel({id:'D', left:columnLeft[0], top:1391.5, bottom:2100, domain:[37.349,38.516], topD:0, base:cbColorsD[6], showY:true,
  cb:{colors:cbColorsD, min:-0.6, max:0.6, major:cbMajorD, minor:cbMinorD, digits:1, titleY:435, title:[['U (m s'],['−1','sup'],[')']]},
  draw:function(f){
    const p = this;
    region(p, f, bigUPaleRight, cbColorsD[5], 'velocity-negative-region');
    region(p, f, bigUCyanRight, '#55ffff', 'velocity-negative-region');
    region(p, f, bigUSpike1, cbColorsD[5], 'velocity-negative-spike');
    region(p, f, bigUSpike2, cbColorsD[5], 'velocity-negative-spike');
    region(p, f, bigUL1, '#ffb000', 'velocity-contour');
    region(p, f, bigUL2, '#ff9500', 'velocity-contour');
    region(p, f, bigUL3, '#ff7d00', 'velocity-contour');
    region(p, f, bigUL4, cbColorsD[10], 'velocity-contour');
    region(p, f, bigUL5, cbColorsD[11], 'velocity-core');
    region(p, f, bigUL6, '#ff2e00', 'velocity-core-inner');
  }});

drawPanel({id:'E', left:columnLeft[1], top:1391.5, bottom:2100, domain:[37.275,38.513], topD:34, base:cbColorsE[7], showY:false,
  cb:{colors:cbColorsE, min:-0.8, max:0.8, major:cbMajorE, minor:cbMinorE, digits:1, titleY:435, title:[['u (m s'],['−1','sup'],[')']]},
  draw:function(f){
    const p = this;
    region(p, f, zonalYellow, cbColorsE[8], 'zonal-velocity-contour');
    region(p, f, zonalCyan, '#55ffff', 'zonal-velocity-negative');
    region(p, f, zonalL1, cbColorsE[9], 'zonal-velocity-contour');
    region(p, f, zonalL2, cbColorsE[10], 'zonal-velocity-contour');
    region(p, f, zonalL3, cbColorsE[11], 'zonal-velocity-contour');
    region(p, f, zonalL4, cbColorsE[12], 'zonal-velocity-contour');
    region(p, f, zonalL5, cbColorsE[13], 'zonal-velocity-contour');
    region(p, f, zonalL6, cbColorsE[14], 'zonal-velocity-contour');
    region(p, f, zonalCore, cbColorsE[15], 'zonal-velocity-core');
  }});

drawPanel({id:'F', left:columnLeft[2], top:1391.5, bottom:2100, domain:[37.274,38.514], topD:34, base:'#9affff', showY:false,
  cb:{colors:cbColorsF, min:-0.4, max:0.4, major:cbMajorF, minor:cbMinorF, digits:1, titleY:435, title:[['v (m s'],['−1','sup'],[')']]},
  draw:function(f){
    const p = this;
    region(p, f, meridCyan1, '#6effff', 'meridional-velocity-contour');
    region(p, f, meridCyan2, '#6effff', 'meridional-velocity-contour');
    region(p, f, meridCyan3, '#33fcff', 'meridional-velocity-contour');
    region(p, f, meridCyan4, '#33fcff', 'meridional-velocity-contour');
    region(p, f, meridCyan5, '#33fcff', 'meridional-velocity-contour');
    region(p, f, meridYellow, '#fff52a', 'meridional-velocity-positive');
    region(p, f, meridIsland, '#9affff', 'meridional-velocity-negative');
    region(p, f, meridIslandCore, '#5cffff', 'meridional-velocity-negative');
    region(p, f, meridGold, '#ffdc00', 'meridional-velocity-contour');
    [meridBlob1,meridBlob2,meridBlob3,meridBlob4,meridBlob5,meridBlob6].forEach(function(b){
      region(p, f, b, '#fff52a', 'meridional-velocity-blob');
    });
  }});

drawPanel({id:'G', left:columnLeft[0], top:2651, bottom:3360, domain:[37.349,38.516], topD:0, base:cbColorsG[3], showY:true,
  cb:{colors:cbColorsG, min:-2, max:2, major:cbMajorG, minor:cbMinorG, digits:0, titleY:438, title:[['b'],['y','sub'],[' (10'],['−7','sup'],[' s'],['−2','sup'],[')']]},
  draw:function(f){
    const p = this;
    region(p, f, buoyGreenTop, cbColorsG[4], 'buoyancy-contour');
    region(p, f, buoyGreenTop2, cbColorsG[4], 'buoyancy-contour');
    region(p, f, buoyGreyArc, GREY, 'buoyancy-dense-contours');
    region(p, f, buoyGreenRight, cbColorsG[4], 'buoyancy-contour');
    [buoyMint1,buoyMint2,buoyMint3,buoyMint4].forEach(function(b){ region(p, f, b, cbColorsG[3], 'buoyancy-patch'); });
    [buoyLump2,buoyLump3,buoyLump4,buoyLump5,buoyLump6,buoyLump8].forEach(function(b){ region(p, f, b, cbColorsG[4], 'buoyancy-patch'); });
    buoyLumpLat.forEach(function(l, i){ blob(p, f, l, buoyLumpDepth[i], buoyLumpRx[i], buoyLumpRy[i], cbColorsG[4], 'buoyancy-patch'); });
    region(p, f, buoyLightBlue, cbColorsG[2], 'buoyancy-front');
    region(p, f, buoyBlue, cbColorsG[1], 'buoyancy-front');
    region(p, f, buoyNavy, cbColorsG[0], 'buoyancy-front-core');
    region(p, f, buoyAmberLeft, cbColorsG[5], 'buoyancy-positive');
    region(p, f, buoyOrangeLeft, cbColorsG[6], 'buoyancy-positive');
    region(p, f, buoyOrangeStrip, cbColorsG[6], 'buoyancy-positive');
    region(p, f, buoyRedLeft, cbColorsG[7], 'buoyancy-positive');
    region(p, f, buoyAmberRight, cbColorsG[5], 'buoyancy-positive');
    region(p, f, buoyOrangeRight, cbColorsG[6], 'buoyancy-positive');
    region(p, f, buoyRedRight1, cbColorsG[7], 'buoyancy-positive');
    region(p, f, buoyRedRight2, cbColorsG[7], 'buoyancy-positive');
    const ringColors = [cbColorsG[4], GREY, cbColorsG[7], cbColorsG[5], cbColorsG[3], cbColorsG[2], cbColorsG[5], cbColorsG[6], cbColorsG[5], cbColorsG[3], cbColorsG[5], cbColorsG[5], cbColorsG[3], cbColorsG[2], cbColorsG[1]];
    buoyRingLat.forEach(function(l, i){ blob(p, f, l, buoyRingDepth[i], buoyRingRx[i], buoyRingRy[i], ringColors[i], 'buoyancy-surface-ring'); });
    region(p, f, buoyNavyTip, cbColorsG[0], 'buoyancy-front-core');
    region(p, f, buoySurface, GREY, 'buoyancy-surface-contours');
  }});

drawPanel({id:'H', left:columnLeft[1], top:2651, bottom:3360, domain:[37.349,38.513], topD:0, base:cbColorsG[3], showY:false,
  cb:{colors:cbColorsG, min:-8, max:8, major:cbMajorH, minor:cbMinorH, digits:0, titleY:438, title:[['π','sym'],['y','sub'],[' (10'],['−5','sup'],[' kg m'],['−3','sup'],[' m'],['−1','sup'],[')']]},
  draw:function(f){
    const p = this;
    region(p, f, spyGreenLeft, cbColorsG[4], 'spice-gradient-contour');
    region(p, f, spyGreenRight, cbColorsG[4], 'spice-gradient-contour');
    [spyMintTop,spyMint1,spyMint2,spyMint3,spyMint4,spyMint5,spyMint6].forEach(function(b){ region(p, f, b, cbColorsG[3], 'spice-gradient-patch'); });
    [spyLump1,spyLump2,spyLump4].forEach(function(b){ region(p, f, b, cbColorsG[4], 'spice-gradient-patch'); });
    spyLumpLat.forEach(function(l, i){ blob(p, f, l, spyLumpDepth[i], spyLumpRx[i], spyLumpRy[i], cbColorsG[4], 'spice-gradient-patch'); });
    region(p, f, spyLightBlue, cbColorsG[2], 'spice-gradient-front');
    [spyBlob1,spyBlob2,spyBlob3,spyBlob4].forEach(function(b){ region(p, f, b, cbColorsG[1], 'spice-gradient-core'); });
    region(p, f, spyAmberLeft, cbColorsG[5], 'spice-gradient-positive');
    region(p, f, spyRedLeft, cbColorsG[6], 'spice-gradient-positive');
    region(p, f, spyRedStrip, cbColorsG[6], 'spice-gradient-positive');
    region(p, f, spyAmberRight1, cbColorsG[5], 'spice-gradient-positive');
    region(p, f, spyAmberRight2, cbColorsG[5], 'spice-gradient-positive');
    region(p, f, spyRedRight, cbColorsG[6], 'spice-gradient-positive');
  }});
</script>
</body>
</html>
